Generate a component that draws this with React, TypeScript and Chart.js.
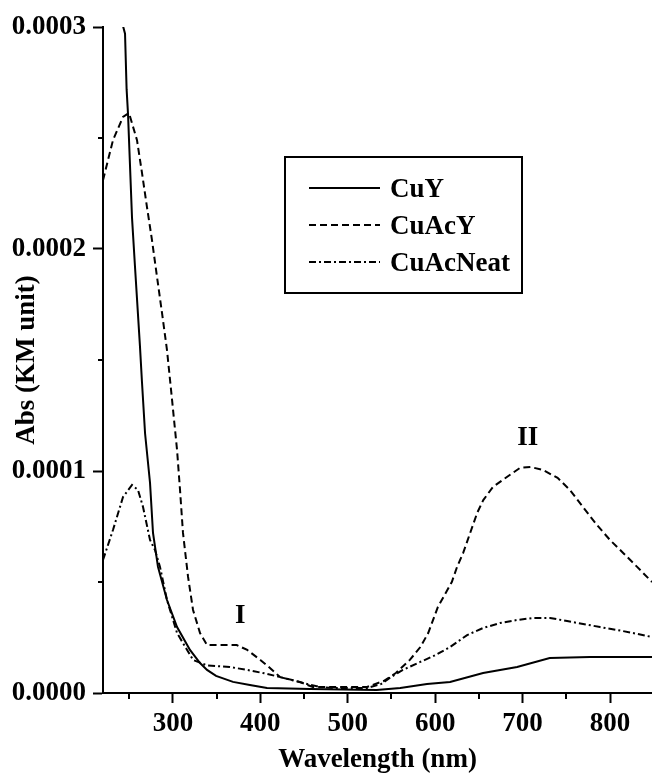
import { useEffect, useRef } from 'react';
import { Chart, registerables } from 'chart.js';

Chart.register(...registerables);

const FONT = "'Liberation Serif', 'Times New Roman', Times, serif";

const seriesNames = ['CuY', 'CuAcY', 'CuAcNeat'];

const cuyWavelength = [242, 243.2, 245.2, 247, 248.6, 253.2, 256.6, 262.3, 264.6, 268.1, 273.8, 277.2, 282.9, 293.2, 304.7, 319.5, 331, 339, 349.3, 368.7, 388, 407.6, 457, 533, 560, 590.6, 617, 654.8, 693.7, 731, 777, 848];
const cuyAbs = [3.08e-4, 3.0e-4, 2.97e-4, 2.72e-4, 2.61e-4, 2.14e-4, 1.92e-4, 1.56e-4, 1.40e-4, 1.17e-4, 9.46e-5, 7.21e-5, 5.68e-5, 4.19e-5, 2.97e-5, 1.94e-5, 1.35e-5, 1.04e-5, 7.7e-6, 5.0e-6, 3.6e-6, 2.3e-6, 1.8e-6, 1.4e-6, 2.3e-6, 4.1e-6, 5.0e-6, 9.0e-6, 1.17e-5, 1.58e-5, 1.62e-5, 1.62e-5];

const cuacyWavelength = [220, 231.4, 242.9, 249.7, 258.9, 264.6, 270.3, 276, 281.8, 287.5, 293.2, 299, 304.7, 308.1, 311.5, 317.3, 323, 331, 339, 373, 385, 400, 411, 422.5, 445, 460, 483, 522, 541, 555, 571, 583, 592, 603, 619, 625, 632, 640, 648, 655, 666, 682, 697, 709, 723, 740, 754, 769, 785, 800, 815, 831, 848];
const cuacyAbs = [2.31e-4, 2.49e-4, 2.595e-4, 2.613e-4, 2.49e-4, 2.343e-4, 2.189e-4, 2.041e-4, 1.874e-4, 1.712e-4, 1.545e-4, 1.32e-4, 1.095e-4, 9.15e-5, 7.21e-5, 5.23e-5, 3.74e-5, 2.70e-5, 2.16e-5, 2.16e-5, 1.94e-5, 1.49e-5, 1.13e-5, 7.2e-6, 5.0e-6, 2.7e-6, 2.7e-6, 2.7e-6, 5.4e-6, 9.0e-6, 1.49e-5, 2.07e-5, 2.70e-5, 3.87e-5, 5.0e-5, 5.68e-5, 6.31e-5, 7.21e-5, 8.11e-5, 8.69e-5, 9.28e-5, 9.73e-5, 1.014e-4, 1.018e-4, 1.005e-4, 9.69e-5, 9.15e-5, 8.38e-5, 7.57e-5, 6.89e-5, 6.31e-5, 5.68e-5, 5.0e-5];

const cuacneatWavelength = [220, 231.4, 242.9, 253.2, 260, 265.8, 273.8, 279.5, 285.2, 293.2, 304.7, 323, 339, 365, 385, 408, 426, 449, 468, 483, 522, 538, 548, 563, 583, 600, 617, 636.5, 654.8, 674.2, 693.7, 712, 731.4, 750.9, 769.2, 788.6, 808, 826.4, 848];
const cuacneatAbs = [5.99e-5, 7.34e-5, 8.83e-5, 9.37e-5, 9.15e-5, 8.38e-5, 6.89e-5, 6.44e-5, 5.68e-5, 4.19e-5, 2.70e-5, 1.49e-5, 1.24e-5, 1.17e-5, 1.04e-5, 8.6e-6, 6.8e-6, 4.5e-6, 2.7e-6, 2.3e-6, 2.3e-6, 4.0e-6, 6.8e-6, 1.04e-5, 1.4e-5, 1.7e-5, 2.07e-5, 2.61e-5, 2.93e-5, 3.15e-5, 3.29e-5, 3.38e-5, 3.38e-5, 3.24e-5, 3.11e-5, 2.97e-5, 2.84e-5, 2.70e-5, 2.52e-5];

const xMajorTicks = [300, 400, 500, 600, 700, 800];
const xMinorTicks = [250, 350, 450, 550, 650, 750];
const yMajorTicks = [0, 0.0001, 0.0002, 0.0003];
const yMinorTicks = [0.00005, 0.00015, 0.00025];

const annotationText = ['I', 'II'];
const annotationX = [377, 706];
const annotationY = [3.47e-5, 1.149e-4];

const dashes: number[][] = [[], [7, 4], [7, 3, 2, 3]];

function zip(xs: number[], ys: number[]) {
  return xs.map((x, i) => ({ x, y: ys[i] }));
}

const overlayPlugin = {
  id: 'overlay',
  afterDraw(chart: any) {
    const ctx: CanvasRenderingContext2D = chart.ctx;
    const xs = chart.scales.x;
    const ys = chart.scales.y;
    const area = chart.chartArea;
    ctx.save();
    ctx.strokeStyle = '#000';
    ctx.fillStyle = '#000';
    ctx.lineWidth = 2;
    ctx.setLineDash([]);
    xMinorTicks.forEach((v) => {
      const px = Math.round(xs.getPixelForValue(v));
      ctx.beginPath();
      ctx.moveTo(px, area.bottom);
      ctx.lineTo(px, area.bottom + 6);
      ctx.stroke();
    });
    yMinorTicks.forEach((v) => {
      const py = Math.round(ys.getPixelForValue(v));
      ctx.beginPath();
      ctx.moveTo(area.left - 5, py);
      ctx.lineTo(area.left, py);
      ctx.stroke();
    });
    ctx.font = `bold 27px ${FONT}`;
    ctx.textAlign = 'center';
    ctx.textBaseline = 'middle';
    annotationText.forEach((t, i) => {
      ctx.fillText(t, xs.getPixelForValue(annotationX[i]), ys.getPixelForValue(annotationY[i]));
    });
    // legend box
    const bx = 285, by = 157, bw = 237, bh = 136;
    ctx.lineWidth = 2;
    ctx.strokeRect(bx, by, bw, bh);
    const rowBase = [197, 234, 271];
    ctx.textAlign = 'left';
    ctx.textBaseline = 'alphabetic';
    chart.data.datasets.forEach((ds: any, i: number) => {
      const ly = rowBase[i] - 9;
      ctx.setLineDash(ds.borderDash || []);
      ctx.lineWidth = 2;
      ctx.beginPath();
      ctx.moveTo(309, ly);
      ctx.lineTo(380, ly);
      ctx.stroke();
      ctx.setLineDash([]);
      ctx.fillText(ds.label, 390, rowBase[i]);
    });
    ctx.restore();
  },
};

export default function App() {
  const ref = useRef<HTMLCanvasElement>(null);
  useEffect(() => {
    const tickFont = { family: FONT, size: 27, weight: 'bold' as const };
    const chart = new Chart(ref.current!, {
      type: 'line',
      data: {
        datasets: [
          { label: seriesNames[0], data: zip(cuyWavelength, cuyAbs), borderDash: dashes[0] },
          { label: seriesNames[1], data: zip(cuacyWavelength, cuacyAbs), borderDash: dashes[1] },
          { label: seriesNames[2], data: zip(cuacneatWavelength, cuacneatAbs), borderDash: dashes[2] },
        ].map((d) => ({
          ...d,
          borderColor: '#000',
          backgroundColor: '#000',
          borderWidth: 2,
          pointRadius: 0,
          tension: 0,
          fill: false,
        })),
      },
      options: {
        responsive: false,
        animation: false,
        events: [],
        layout: { padding: { top: 27, left: 0, right: 0, bottom: 0 } },
        plugins: { legend: { display: false }, tooltip: { enabled: false } },
        scales: {
          x: {
            type: 'linear',
            min: 220,
            max: 848,
            afterBuildTicks: (s: any) => {
              s.ticks = xMajorTicks.map((v) => ({ value: v }));
            },
            afterFit: (s: any) => {
              s.height = 84;
            },
            grid: { drawOnChartArea: false, drawTicks: true, tickLength: 10, tickWidth: 2, tickColor: '#000' },
            border: { display: true, color: '#000', width: 2 },
            ticks: { color: '#000', font: tickFont, padding: 5, maxRotation: 0, autoSkip: false, callback: (v: any) => String(v) },
            title: { display: true, text: 'Wavelength (nm)', color: '#000', font: tickFont, padding: { top: 0, bottom: 1 } },
          },
          y: {
            type: 'linear',
            min: 0,
            max: 0.0003,
            afterBuildTicks: (s: any) => {
              s.ticks = yMajorTicks.map((v) => ({ value: v }));
            },
            afterFit: (s: any) => {
              s.width = 103;
            },
            grid: { drawOnChartArea: false, drawTicks: true, tickLength: 10, tickWidth: 2, tickColor: '#000' },
            border: { display: true, color: '#000', width: 2 },
            ticks: { color: '#000', font: tickFont, padding: 7, autoSkip: false, callback: (v: any) => Number(v).toFixed(4) },
            title: { display: true, text: 'Abs (KM unit)', color: '#000', font: tickFont, padding: { top: 11, bottom: 0 } },
          },
        },
      },
      plugins: [overlayPlugin],
    });
    return () => chart.destroy();
  }, []);
  return (
    <div style={{ position: 'absolute', left: 0, top: 0, width: 652, height: 777, background: '#fff' }}>
      <canvas ref={ref} width={652} height={777} style={{ display: 'block' }} />
    </div>
  );
}
